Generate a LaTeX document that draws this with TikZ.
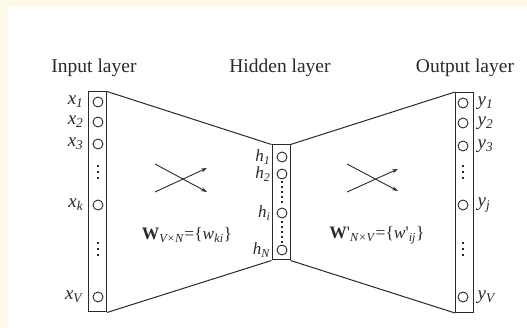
\documentclass[tikz,border=0pt]{standalone}
\usepackage{fontspec}
\setmainfont{Liberation Serif}
\usetikzlibrary{arrows.meta, positioning}
\definecolor{pagecream}{HTML}{FFF9EA}
\definecolor{inkgray}{HTML}{2A2A2A}
\newcommand{\varlab}[2]{\textit{#1}\textsubscript{\textit{#2}}}
\tikzset{
    layerbox/.style={draw=inkgray, line width=1pt, minimum width=18pt, inner sep=0pt},
    unit/.style={circle, draw=inkgray, line width=0.9pt, minimum size=10pt, inner sep=0pt},
    vdot/.style={rectangle, fill=inkgray, minimum size=2.2pt, inner sep=0pt},
    varname/.style={text=inkgray, inner sep=0pt, font=\fontsize{19}{22}\selectfont},
    hidname/.style={varname, font=\fontsize{17}{19}\selectfont},
    weight/.style={text=inkgray, inner sep=0pt, font=\fontsize{17.5}{20}\selectfont},
    title/.style={text=inkgray, inner sep=0pt, font=\fontsize{19.5}{23}\selectfont},
    flow/.style={draw=inkgray, line width=0.9pt, -{Stealth[length=6pt, width=4pt]}}
}
\begin{document}
\begin{tikzpicture}[x=1pt, y=-1pt]
        % Page background
        \fill[pagecream] (0,0) rectangle (527,328);
        \fill[white] (8,7) rectangle (527,328);
        \useasboundingbox (0,0) rectangle (527,328);
        % Layer columns
        \node[layerbox, minimum height=220pt] (inbox) at (97.5,202) {};
        \node[layerbox, minimum height=115pt] (hidbox) at (281,202.5) {};
        \node[layerbox, minimum height=220pt] (outbox) at (464.5,202.5) {};
        % Layer titles
        \node[title] (intitle) at (94,68) {Input layer};
        \node[title] (hidtitle) at (280,68) {Hidden layer};
        \node[title] (outtitle) at (465,68) {Output layer};
        % Input units
        \foreach \y/\s [count=\i] in {102/1, 122/2, 144/3, 205/k, 297/V} {
            \node[unit] (x\i) at (98,\y) {};
            \node[varname, left=9pt of x\i] (xl\i) {\varlab{x}{\s}};
        }
        % Output units
        \foreach \y/\s [count=\i] in {103/1, 123/2, 146/3, 205/j, 297/V} {
            \node[unit] (y\i) at (463,\y) {};
            \node[varname, right=9pt of y\i] (yl\i) {\varlab{y}{\s}};
        }
        % Hidden units
        \foreach \y/\s [count=\i] in {157/1, 174/2, 213/i, 250/N} {
            \node[unit] (h\i) at (282,\y) {};
            \node[hidname, left=6pt of h\i] (hl\i) {\varlab{h}{\s}};
        }
        % Dots
        \foreach \y in {166,172,178, 243,249,255}
            \node[vdot] at (98,\y) {};
        \foreach \y in {166,172,178, 243,249,255}
            \node[vdot] at (463,\y) {};
        \foreach \y in {182,187,192,197,202, 222,227,232,237,242}
            \node[vdot] at (282,\y) {};
        % Connections between layers
        \draw[inkgray, line width=1pt] (inbox.north east) -- (hidbox.north west);
        \draw[inkgray, line width=1pt] (inbox.south east) -- (hidbox.south west);
        \draw[inkgray, line width=1pt] (hidbox.north east) -- (outbox.north west);
        \draw[inkgray, line width=1pt] (hidbox.south east) -- (outbox.south west);
        % Crossing arrows
        \coordinate (la1) at (155,164);
        \coordinate (la2) at (207,192);
        \coordinate (la3) at (155,192);
        \coordinate (la4) at (207,168);
        \draw[flow] (la1) -- (la2);
        \draw[flow] (la3) -- (la4);
        \coordinate (ra1) at (347,164);
        \coordinate (ra2) at (398,191);
        \coordinate (ra3) at (347,192);
        \coordinate (ra4) at (398,169);
        \draw[flow] (ra1) -- (ra2);
        \draw[flow] (ra3) -- (ra4);
        % Weight matrices
        \node[weight] (wleft) at (187,235)
            {\textbf{W}\textsubscript{\textit{V×N}}=\{\varlab{w}{ki}\}};
        \node[weight] (wright) at (377,235)
            {\textbf{W}\textquotesingle\textsubscript{\textit{N×V}}=\{\textit{w}\textquotesingle\textsubscript{\textit{ij}}\}};
    \end{tikzpicture}
\end{document}
